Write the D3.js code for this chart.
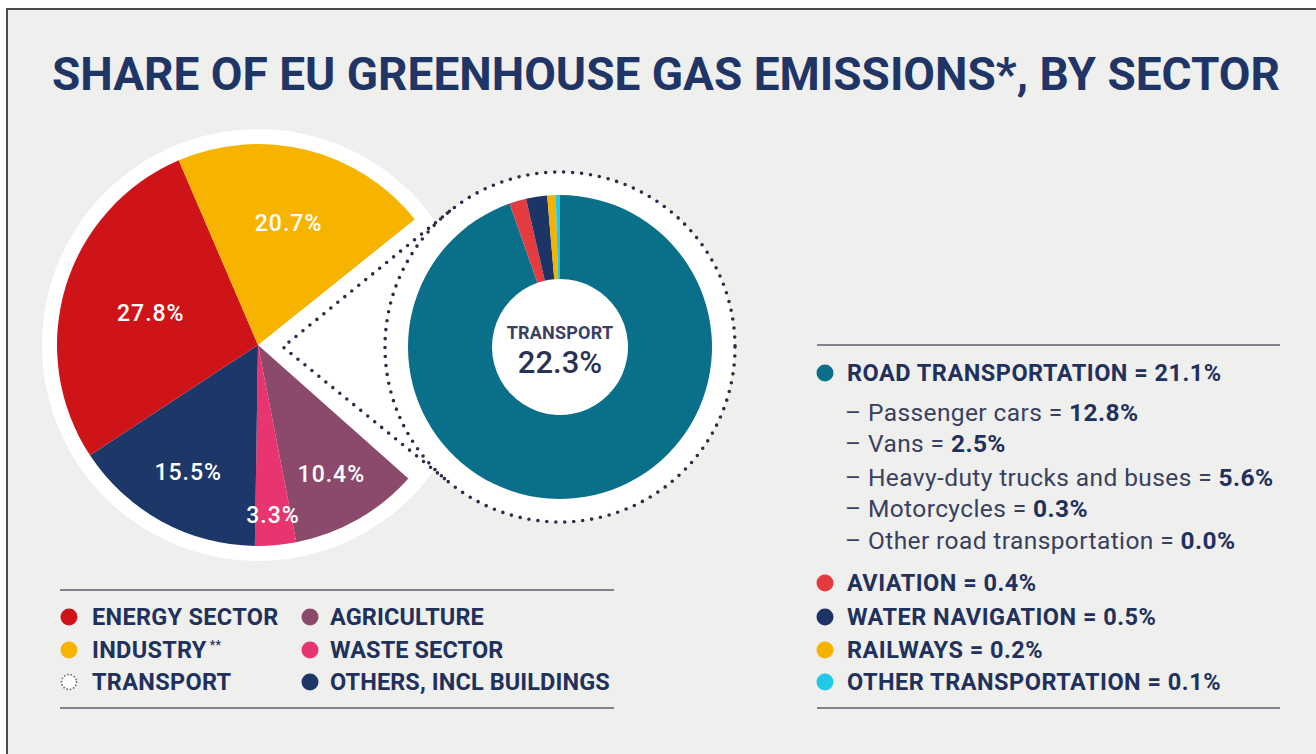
<!DOCTYPE html>
<html><head><meta charset="utf-8">
<script src="https://cdn.jsdelivr.net/npm/d3@7"></script>
<style>html,body{margin:0;padding:0;background:#fff;}svg{display:block;font-family:Roboto,"Noto Sans",sans-serif;}</style>
</head><body>
<script>
// ---- data ----
const titleText = "SHARE OF EU GREENHOUSE GAS EMISSIONS*, BY SECTOR";
const sectors = ["Transport", "Agriculture", "Waste sector", "Others, incl buildings", "Energy sector", "Industry"];
const sectorShares = [22.3, 10.4, 3.3, 15.5, 27.8, 20.7];
const legendLeftCol1 = ["ENERGY SECTOR", "INDUSTRY", "TRANSPORT"];
const legendLeftCol2 = ["AGRICULTURE", "WASTE SECTOR", "OTHERS, INCL BUILDINGS"];
const modes = ["ROAD TRANSPORTATION", "AVIATION", "WATER NAVIGATION", "RAILWAYS", "OTHER TRANSPORTATION"];
const modeShares = [21.1, 0.4, 0.5, 0.2, 0.1];
const roadSubs = ["Passenger cars", "Vans", "Heavy-duty trucks and buses", "Motorcycles", "Other road transportation"];
const roadSubShares = [12.8, 2.5, 5.6, 0.3, 0.0];

// ---- styles ----
const sectorColor = d3.scaleOrdinal().domain(sectors)
  .range(["#ffffff", "#8b4a6b", "#e8346f", "#1d3769", "#cf1419", "#f6b400"]);
const modeColor = d3.scaleOrdinal().domain(modes)
  .range(["#0a7089", "#e43b41", "#1c3466", "#f4b300", "#22c8e8"]);
const navy = "#21315c", bg = "#efefed", dotCol = "#2a2e47";
const fmt = v => v.toFixed(1) + "%";

const W = 1316, H = 754;
const svg = d3.select("body").append("svg").attr("width", W).attr("height", H);
svg.append("rect").attr("width", W).attr("height", H).attr("fill", "#fff");
svg.append("rect").attr("x", 7).attr("y", 9).attr("width", W + 20).attr("height", H + 20)
  .attr("fill", bg).attr("stroke", "#4a4a4a").attr("stroke-width", 2);

// title
svg.append("text").attr("x", 52).attr("y", 90).text(titleText)
  .attr("font-size", 46).attr("font-weight", 700).attr("fill", "#1f3566")
  .attr("textLength", 1228).attr("lengthAdjust", "spacingAndGlyphs");

// ---- big pie ----
const pc = [258, 345], pr = 201;
const donutC = [560, 347], dotR = 175;
const apex = [283, 347];
const a0 = 51.3 * Math.PI / 180;
const pie = d3.pie().sort(null).startAngle(a0).endAngle(a0 + 2 * Math.PI);
const pieArcs = pie(sectorShares).map((a, i) => Object.assign(a, { name: sectors[i] }));

const gP = svg.append("g").attr("transform", `translate(${pc})`);
gP.append("circle").attr("r", 216).attr("fill", "#fff");

// white cone to donut
const dx = donutC[0] - apex[0], dy = donutC[1] - apex[1];
const dist = Math.hypot(dx, dy), th = Math.asin(dotR / dist), L = Math.sqrt(dist * dist - dotR * dotR);
const base = Math.atan2(dy, dx);
const T1 = [apex[0] + L * Math.cos(base - th), apex[1] + L * Math.sin(base - th)];
const T2 = [apex[0] + L * Math.cos(base + th), apex[1] + L * Math.sin(base + th)];
svg.append("path").attr("fill", "#fff")
  .attr("d", `M${apex}L${T1}A${dotR},${dotR} 0 1 1 ${T2}Z`);

const arcP = d3.arc().innerRadius(0).outerRadius(pr);
gP.selectAll("path.s").data(pieArcs).join("path").attr("class", "s")
  .attr("d", arcP).attr("fill", d => sectorColor(d.name));

const labelR = { "Industry": 126, "Energy sector": 112, "Others, incl buildings": 145, "Agriculture": 148, "Waste sector": 170 };
gP.selectAll("text.l").data(pieArcs.filter(d => d.name !== "Transport")).join("text").attr("class", "l")
  .attr("transform", d => {
    const r = labelR[d.name];
    const c = d3.arc().innerRadius(r).outerRadius(r).centroid(d);
    return `translate(${c})`;
  })
  .attr("text-anchor", "middle").attr("dy", "0.36em")
  .attr("font-size", 23).attr("font-weight", 500).attr("letter-spacing", 1)
  .attr("fill", "#fff").text(d => fmt(d.value));

// dotted outline
const dotted = sel => sel.attr("fill", "none").attr("stroke", dotCol).attr("stroke-width", 3.6)
  .attr("stroke-dasharray", "0 9").attr("stroke-linecap", "round");
svg.append("path").attr("d", `M${T1}L${apex}L${T2}`).call(dotted);
svg.append("circle").attr("cx", donutC[0]).attr("cy", donutC[1]).attr("r", dotR).call(dotted);

// ---- donut ----
const gD = svg.append("g").attr("transform", `translate(${donutC})`);
const dArcs = d3.pie().sort(null)(modeShares).map((a, i) => Object.assign(a, { name: modes[i] }));
gD.selectAll("path").data(dArcs).join("path")
  .attr("d", d3.arc().innerRadius(68).outerRadius(152)).attr("fill", d => modeColor(d.name));
gD.append("text").attr("y", -8).attr("text-anchor", "middle").attr("font-size", 18).attr("font-weight", 700)
  .attr("letter-spacing", 0.2).attr("fill", "#3a4060").text(sectors[0].toUpperCase());
gD.append("text").attr("y", 26).attr("text-anchor", "middle").attr("font-size", 31).attr("font-weight", 500)
  .attr("fill", "#2c3252").text(fmt(d3.sum(modeShares)));

// ---- left legend ----
const line = (x1, x2, y) => svg.append("line").attr("x1", x1).attr("x2", x2).attr("y1", y).attr("y2", y)
  .attr("stroke", "#80838a").attr("stroke-width", 2);
line(60, 614, 590); line(60, 614, 708);
const rowY = [617, 650, 682];
const legCol1Keys = ["Energy sector", "Industry", "Transport"];
const legCol2Keys = ["Agriculture", "Waste sector", "Others, incl buildings"];
const legFont = 23.5;
legendLeftCol1.forEach((t, i) => {
  const key = legCol1Keys[i];
  if (key === "Transport") {
    svg.append("circle").attr("cx", 69).attr("cy", rowY[i]).attr("r", 7.5).attr("fill", "#fff")
      .attr("stroke", "#666").attr("stroke-width", 1.8).attr("stroke-dasharray", "0 3.4").attr("stroke-linecap", "round");
  } else {
    svg.append("circle").attr("cx", 69).attr("cy", rowY[i]).attr("r", 8.5).attr("fill", sectorColor(key));
  }
  const tx = svg.append("text").attr("x", 92).attr("y", rowY[i] + 8.3).attr("font-size", legFont).attr("font-weight", 700)
    .attr("letter-spacing", 0.3).attr("fill", navy).text(t);
  if (key === "Industry") tx.append("tspan").attr("dy", -9).attr("dx", 3).attr("font-size", 12).text("**");
});
legendLeftCol2.forEach((t, i) => {
  svg.append("circle").attr("cx", 310).attr("cy", rowY[i]).attr("r", 8.5).attr("fill", sectorColor(legCol2Keys[i]));
  svg.append("text").attr("x", 330).attr("y", rowY[i] + 8.3).attr("font-size", legFont).attr("font-weight", 700)
    .attr("letter-spacing", 0.1).attr("fill", navy).text(t);
});

// ---- right legend ----
line(817, 1280, 345); line(817, 1280, 708);
const modeY = [373, 583, 617, 650, 682];
modes.forEach((m, i) => {
  svg.append("circle").attr("cx", 825).attr("cy", modeY[i]).attr("r", 8.5).attr("fill", modeColor(m));
  svg.append("text").attr("x", 847).attr("y", modeY[i] + 8.3).attr("font-size", 23.5).attr("font-weight", 700)
    .attr("letter-spacing", 0.5).attr("fill", navy).text(`${m} = ${fmt(modeShares[i])}`);
});
const subY = [412, 443, 477, 508, 540];
roadSubs.forEach((s, i) => {
  const t = svg.append("text").attr("x", 845).attr("y", subY[i] + 8.5).attr("font-size", 24.5)
    .attr("letter-spacing", 0.4).attr("fill", "#39415f");
  t.append("tspan").text(`– ${s} = `);
  t.append("tspan").attr("font-weight", 700).attr("fill", navy).text(fmt(roadSubShares[i]));
});
</script>
</body></html>
